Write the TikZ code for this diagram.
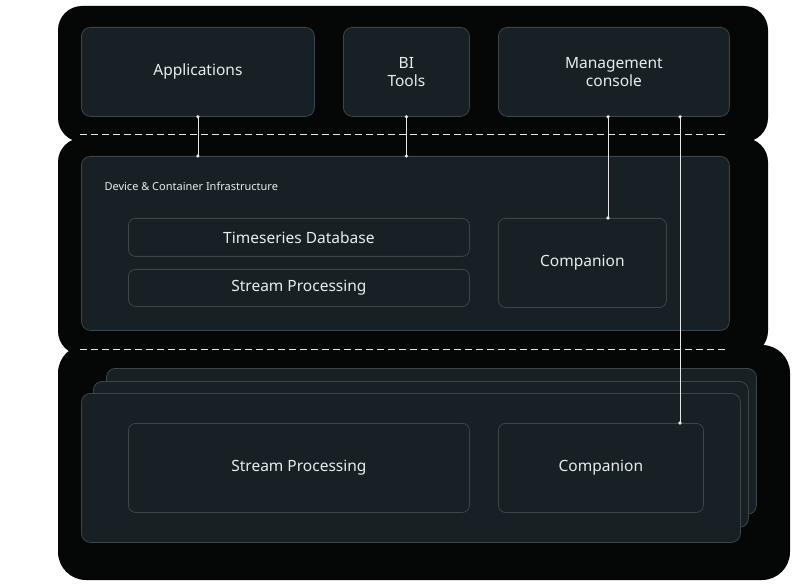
\documentclass[tikz,border=0pt]{standalone}
\usepackage{fontspec}
\setmainfont{Noto Sans}
\definecolor{glow}{HTML}{050606}
\definecolor{boxfill}{HTML}{172024}
\definecolor{edgegray}{HTML}{3C4548}
\definecolor{txt}{HTML}{E8ECEE}
\definecolor{linkwhite}{HTML}{E4E6E7}
\begin{document}
\begin{tikzpicture}[
		x=1pt, y=-1pt,
		panel/.style={draw=edgegray, fill=boxfill, line width=0.8pt, rounded corners=9pt, anchor=north west, inner sep=0pt, text=txt, font=\fontsize{15.5}{18}\selectfont, align=center},
		inbox/.style={panel, rounded corners=7pt},
		link/.style={draw=linkwhite, line width=0.7pt},
		dot/.style={circle, fill=linkwhite, inner sep=0pt, minimum size=3.6pt},
		divider/.style={draw=linkwhite, line width=1pt, dash pattern=on 7pt off 4pt}
	]
	% page and dark glow
	\useasboundingbox (0,0) rectangle (800,585);
	\fill[white] (0,0) rectangle (800,585);
	\fill[glow, rounded corners=24pt] (58,6) rectangle (768,142);
	\fill[glow, rounded corners=24pt] (58,138) rectangle (768,355);
	\fill[glow, rounded corners=28pt] (58,345) rectangle (790,580);

	% top row
	\node[panel, minimum width=233pt, minimum height=89pt] (apps) at (81,27) {Applications};
	\node[panel, minimum width=126pt, minimum height=89pt] (bitools) at (343,27) {BI\\Tools};
	\node[panel, minimum width=231pt, minimum height=89pt] (mgmt) at (498,27) {Management\\console};

	\draw[divider] (80,135) -- (728,135);

	% infrastructure
	\node[panel, minimum width=648pt, minimum height=174pt] (infra) at (81,156) {};
	\node[anchor=west, text=txt, font=\fontsize{11}{13}\selectfont] (infralabel) at (101,186) {Device \& Container Infrastructure};
	\node[inbox, minimum width=341pt, minimum height=38pt] (tsdb) at (128,218) {Timeseries Database};
	\node[inbox, minimum width=341pt, minimum height=37pt] (stream) at (128,269) {Stream Processing};
	\node[inbox, minimum width=168pt, minimum height=89pt] (comp) at (498,218) {Companion};

	\draw[divider] (80,349) -- (728,349);

	% devices (stacked)
	\node[panel, minimum width=650pt, minimum height=146pt] (devback) at (106,368) {};
	\node[panel, minimum width=655pt, minimum height=146pt] (devmid) at (93,381) {};
	\node[panel, minimum width=659pt, minimum height=149pt] (devfront) at (81,393) {};
	\node[inbox, minimum width=341pt, minimum height=89pt] (edgestream) at (128,423) {Stream Processing};
	\node[inbox, minimum width=205pt, minimum height=89pt] (edgecomp) at (498,423) {Companion};

	% connectors
	\coordinate (comptap) at (608,218);
	\coordinate (edgetap) at (680,423);
	\draw[link] (apps.south) node[dot] {} -- (apps.south |- infra.north) node[dot] {};
	\draw[link] (bitools.south) node[dot] {} -- (bitools.south |- infra.north) node[dot] {};
	\draw[link] (comptap |- mgmt.south) node[dot] {} -- (comptap) node[dot] {};
	\draw[link] (edgetap |- mgmt.south) node[dot] {} -- (edgetap) node[dot] {};
\end{tikzpicture}
\end{document}
